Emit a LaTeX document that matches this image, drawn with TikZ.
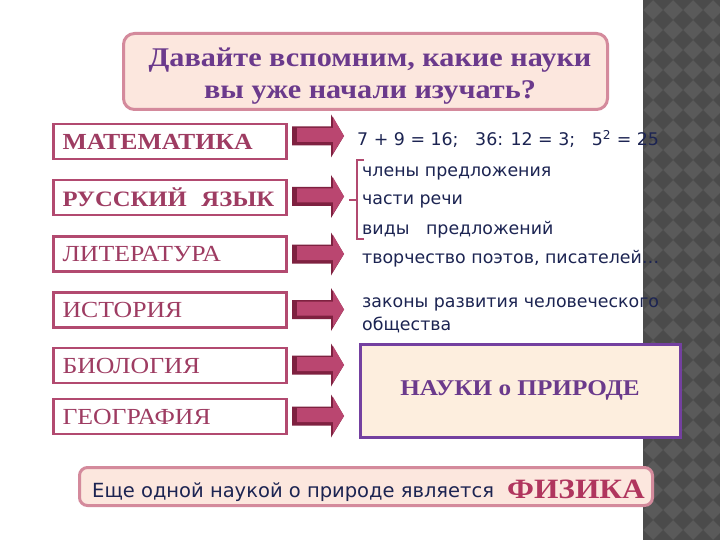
\documentclass[tikz,border=0pt]{standalone}
\usepackage{fontspec}
\setmainfont[FakeStretch=1.12]{Liberation Serif}
\newfontfamily\vsans{DejaVu Sans}
\usetikzlibrary{shapes.arrows}
\definecolor{stripA}{HTML}{5A5A5A}
\definecolor{stripB}{HTML}{4B4B4B}
\definecolor{titlefill}{HTML}{FCE7DE}
\definecolor{titleborder}{HTML}{D48A9C}
\definecolor{purpletext}{HTML}{6B3A8C}
\definecolor{subjborder}{HTML}{B24A70}
\definecolor{subjtext}{HTML}{9E3C62}
\definecolor{arrowmain}{HTML}{BA4670}
\definecolor{arrowdark}{HTML}{7E2140}
\definecolor{navy}{HTML}{1C2452}
\definecolor{naukifill}{HTML}{FDEEDE}
\definecolor{naukiborder}{HTML}{7440A0}
\definecolor{fizika}{HTML}{B0365E}
\tikzset{
  subj/.style={draw=subjborder, line width=2.5pt, fill=white, minimum height=35pt,
    inner xsep=9pt, inner ysep=0pt, text width=215pt, align=left, text=subjtext,
    font=\fontsize{23}{23}\selectfont},
  rtext/.style={anchor=west, inner sep=0pt, text=navy, font=\vsans\fontsize{17.4}{23}\selectfont, align=left},
}
\newcommand{\subjarrow}[2]{%
  \path[fill=arrowdark] (292,#2-9.5) -- (331,#2-9.5) -- (331,#2-21.5) -- (344,#2) -- (331,#2+21.5) -- (331,#2+9.5) -- (292,#2+9.5) -- cycle;
  \path[fill=arrowmain] (297,#2-8) -- (333,#2-8) -- (333,#2-19) -- (344,#2) -- (333,#2+17.5) -- (333,#2+6) -- (297,#2+6) -- cycle;
  \coordinate (#1) at (318,#2);
}
\begin{document}
\begin{tikzpicture}[x=1pt,y=-1pt]
\useasboundingbox (0,0) rectangle (720,540);
\fill[white] (0,0) rectangle (720,540);
% checkered strip
\begin{scope}
\clip (643,0) rectangle (720,540);
\fill[stripA] (643,0) rectangle (720,540);
\foreach \i in {0,...,5} \foreach \j in {0,...,28} {
  \fill[stripB] ({643+20*\i-10},{20*\j}) -- ++(10,-10) -- ++(10,10) -- ++(-10,10) -- cycle;
}
\end{scope}
% title
\node[draw=titleborder, line width=3pt, fill=titlefill, rounded corners=11pt,
  minimum width=484pt, minimum height=76pt] (title) at (365.5,71.5) {};
\node[align=center, text=purpletext, font=\bfseries\fontsize{27}{32}\selectfont] (titletext) at (370,76) {Давайте вспомним, какие науки\\вы уже начали изучать?};
% subject boxes
\node[subj, font=\bfseries\fontsize{23}{23}\selectfont] (mat) at (170,141.5) {МАТЕМАТИКА};
\node[subj, font=\bfseries\fontsize{22}{22}\selectfont] (rus) at (170,197.5) {РУССКИЙ\ \ ЯЗЫК};
\node[subj] (lit) at (170,254) {ЛИТЕРАТУРА};
\node[subj] (ist) at (170,310) {ИСТОРИЯ};
\node[subj] (bio) at (170,365.5) {БИОЛОГИЯ};
\node[subj] (geo) at (170,416.5) {ГЕОГРАФИЯ};
% arrows
\subjarrow{a1}{136}
\subjarrow{a2}{196.5}
\subjarrow{a3}{254}
\subjarrow{a4}{309.5}
\subjarrow{a5}{365}
\subjarrow{a6}{416}
% right texts
\node[rtext] (t1) at (357,139) {7 + 9 = 16;\ \ \ 36: 12 = 3;\ \ \ 5\textsuperscript{2} = 25};
\node[rtext] (t2) at (362,173) {члены предложения};
\node[rtext] (t3) at (362,201) {части речи};
\node[rtext] (t4) at (362,230) {виды\ \ \ предложений};
\node[rtext] (t5) at (362,259) {творчество поэтов, писателей…};
\node[rtext] (t6) at (362,315) {законы развития человеческого\\общества};
% bracket
\draw[subjborder, line width=2pt] (364,160) -- (357,160) -- (357,239) -- (364,239);
\draw[subjborder, line width=2pt] (349,200) -- (357,200);
% nauki box
\node[draw=naukiborder, line width=3pt, fill=naukifill, minimum width=320pt, minimum height=93pt,
  text=purpletext, font=\bfseries\fontsize{22.5}{22.5}\selectfont] (nauki) at (520,390.5) {НАУКИ о ПРИРОДЕ};
% bottom box
\node[draw=titleborder, line width=3pt, fill=titlefill, rounded corners=8pt,
  minimum width=573pt, minimum height=38pt] (bottom) at (366,486.5) {};
\node[anchor=base west, inner sep=0pt, text=navy, font=\vsans\fontsize{19.5}{21}\selectfont] (btext) at (92,497) {Еще одной наукой о природе является};
\node[anchor=base east, inner sep=0pt, text=fizika, font=\bfseries\fontsize{28}{30}\selectfont] (fiz) at (645,498) {ФИЗИКА};
\end{tikzpicture}
\end{document}
